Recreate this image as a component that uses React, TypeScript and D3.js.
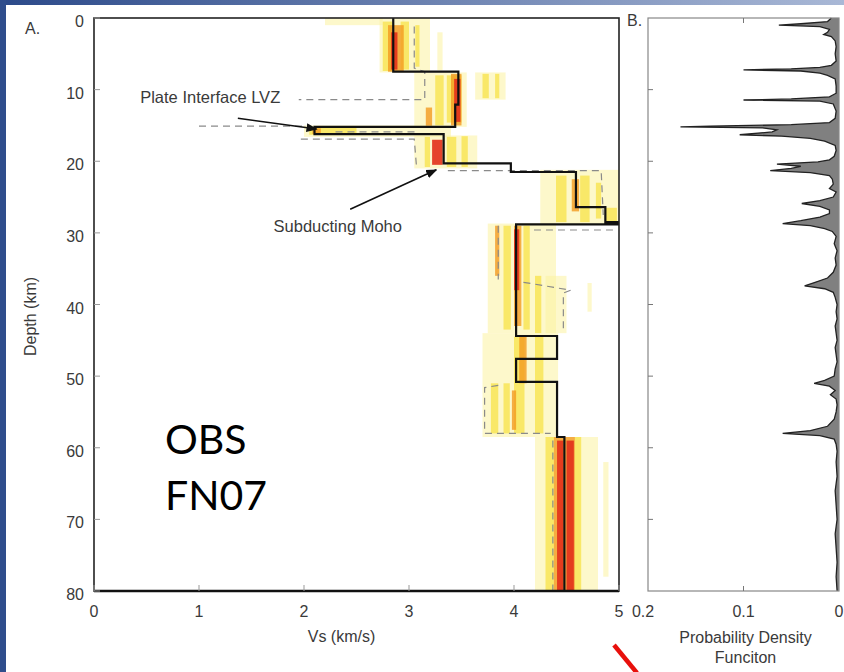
import React from "react";
import * as d3 from "d3";

const W = 844;
const H = 672;
const frameA = { left: 94, right: 619, top: 18, bottom: 591 };
const frameB = { left: 648, right: 839, top: 18, bottom: 591 };

const depthTicks = [0, 10, 20, 30, 40, 50, 60, 70, 80];
const vsTicks = [0, 1, 2, 3, 4, 5];
const pdfTicks = [0.2, 0.1, 0];
const pdfTickLabels = ["0.2", "0.1", "0"];

// best fitting model: [top depth, bottom depth, Vs]
const bestModel = [
  [0, 7.5, 2.85],
  [7.5, 12.1, 3.47],
  [12.1, 15.2, 3.44],
  [15.2, 16.2, 2.1],
  [16.2, 20.3, 3.33],
  [20.3, 21.5, 3.97],
  [21.5, 26.4, 4.59],
  [26.4, 28.5, 4.87],
  [28.5, 28.8, 4.99],
  [28.8, 44.4, 4.02],
  [44.4, 47.6, 4.41],
  [47.6, 50.8, 4.02],
  [50.8, 58.5, 4.41],
  [58.5, 80, 4.48],
];

// posterior density streaks: [top depth, bottom depth, Vs low, Vs high, level 1-4]
const heatBands = [
  [0, 1.0, 2.2, 2.75, 1],
  [0, 7.6, 2.72, 3.2, 1],
  [0.5, 7.4, 2.75, 2.84, 2],
  [0.5, 7.2, 2.92, 3.0, 2],
  [1, 6.8, 3.06, 3.1, 2],
  [1, 7.5, 2.8, 2.95, 3],
  [2, 7.2, 2.83, 2.89, 4],
  [2, 7.3, 3.27, 3.32, 1],
  [7.6, 15.2, 3.05, 3.55, 1],
  [8, 15, 3.25, 3.33, 2],
  [8, 14.6, 3.36, 3.5, 2],
  [7.8, 15, 3.4, 3.5, 3],
  [8.5, 14.5, 3.43, 3.49, 4],
  [7.6, 11.4, 3.63, 3.92, 1],
  [7.8, 11.2, 3.7, 3.76, 2],
  [7.8, 11.2, 3.82, 3.86, 2],
  [12.5, 15.2, 3.16, 3.22, 3],
  [15.0, 16.6, 2.0, 3.4, 1],
  [15.3, 16.3, 2.05, 2.5, 2],
  [15.4, 16.2, 2.08, 2.16, 3],
  [16.4, 21, 3.05, 3.65, 1],
  [16.6, 20.8, 3.15, 3.2, 2],
  [16.6, 20.8, 3.36, 3.45, 2],
  [17, 20.5, 3.22, 3.32, 4],
  [16.5, 20.8, 3.5, 3.56, 2],
  [21.2, 28.8, 4.25, 5.0, 1],
  [22, 28.5, 4.4, 4.5, 2],
  [22, 28.5, 4.63, 4.72, 2],
  [23, 28, 4.78, 4.83, 2],
  [22.5, 27, 4.55, 4.62, 3],
  [26.5, 28.6, 4.87, 4.98, 2],
  [28.7, 44, 3.75, 4.4, 1],
  [29, 43.5, 3.9, 3.97, 2],
  [29, 43.5, 4.09, 4.15, 2],
  [29, 43, 4.0, 4.07, 3],
  [29.5, 38, 4.0, 4.05, 4],
  [36, 44, 4.2, 4.26, 2],
  [36, 44, 4.3, 4.5, 1],
  [29, 36, 3.82, 3.86, 3],
  [37, 41, 4.7, 4.74, 1],
  [44, 58.5, 3.7, 4.42, 1],
  [44.5, 58, 4.0, 4.1, 2],
  [44.5, 58, 4.2, 4.28, 2],
  [44.5, 51, 4.05, 4.12, 3],
  [51, 58, 3.78, 3.85, 2],
  [51, 58, 3.9, 3.96, 2],
  [52, 57.5, 3.98, 4.02, 3],
  [58.5, 80, 4.2, 4.8, 1],
  [58.5, 80, 4.3, 4.38, 2],
  [58.5, 80, 4.58, 4.64, 2],
  [58.5, 80, 4.38, 4.58, 3],
  [59, 80, 4.41, 4.47, 4],
  [59, 80, 4.5, 4.57, 4],
  [62, 78, 4.85, 4.9, 1],
];
const heatColors = ["#fbf2a0", "#f8df33", "#f29a1f", "#e2301b"];
const heatOpacity = [0.55, 0.65, 0.8, 0.9];

// dashed bound segments as [Vs, depth] points
const boundPaths = [
  [[3.05, 1.2], [3.05, 7.0], [3.15, 7.5], [3.15, 11.4], [1.95, 11.4]],
  [[1.0, 15.1], [2.05, 15.1]],
  [[2.3, 15.9], [3.1, 15.9]],
  [[1.97, 16.9], [3.05, 16.9], [3.07, 20.5]],
  [[3.37, 21.3], [4.83, 21.3], [4.85, 27.5]],
  [[4.19, 29.6], [4.95, 29.6]],
  [[3.85, 29.0], [3.85, 36.5]],
  [[4.09, 36.9], [4.54, 38.0], [4.47, 38.4], [4.47, 44.0]],
  [[3.85, 51.3], [3.72, 51.6], [3.72, 58.0], [4.35, 58.0]],
  [[4.37, 59.0], [4.37, 80]],
];

// probability density function: [depth, value]
const pdfProfile = [
  [0, 0.008], [0.5, 0.012], [0.8, 0.04], [1.0, 0.063], [1.2, 0.02], [1.6, 0.01],
  [2.0, 0.012], [2.3, 0.016], [2.6, 0.008], [3.2, 0.004], [4.0, 0.003], [5.0, 0.004],
  [6.0, 0.003], [6.6, 0.008], [6.9, 0.02], [7.1, 0.05], [7.25, 0.1], [7.4, 0.04],
  [7.7, 0.02], [8.0, 0.012], [8.5, 0.004], [9.5, 0.003], [10.5, 0.003], [11.0, 0.01],
  [11.3, 0.05], [11.45, 0.1], [11.6, 0.02], [12.0, 0.006], [13.0, 0.003], [14.0, 0.004],
  [14.6, 0.01], [14.9, 0.05], [15.1, 0.135], [15.2, 0.166], [15.35, 0.08], [15.6, 0.065],
  [15.9, 0.07], [16.3, 0.104], [16.5, 0.06], [16.8, 0.03], [17.2, 0.015], [17.8, 0.004],
  [18.5, 0.003], [19.3, 0.005], [19.8, 0.01], [20.1, 0.022], [20.4, 0.065], [20.7, 0.04],
  [21.0, 0.05], [21.3, 0.072], [21.6, 0.03], [22.0, 0.01], [22.5, 0.007], [23.2, 0.006],
  [23.8, 0.01], [24.3, 0.003], [25.0, 0.006], [25.5, 0.02], [25.9, 0.039], [26.3, 0.02],
  [26.8, 0.01], [27.3, 0.01], [27.8, 0.02], [28.3, 0.04], [28.7, 0.059], [29.0, 0.03],
  [29.4, 0.015], [29.8, 0.007], [30.5, 0.003], [31.5, 0.005], [32.5, 0.002], [33.5, 0.004],
  [34.5, 0.003], [35.5, 0.006], [36.3, 0.012], [36.9, 0.025], [37.4, 0.036], [37.8, 0.015],
  [38.3, 0.006], [39.0, 0.004], [40, 0.002], [41, 0.003], [42, 0.002], [43, 0.004],
  [44, 0.003], [45, 0.002], [46, 0.004], [47, 0.003], [48, 0.002], [49, 0.004],
  [50, 0.005], [50.6, 0.015], [51.0, 0.026], [51.4, 0.01], [52.0, 0.004], [52.6, 0.009],
  [53.2, 0.003], [54, 0.002], [55, 0.003], [56, 0.005], [57, 0.012], [57.6, 0.03],
  [58.0, 0.059], [58.3, 0.02], [58.8, 0.005], [59.5, 0.003], [60.5, 0.002], [62, 0.003],
  [64, 0.002], [66, 0.004], [68, 0.003], [70, 0.002], [72, 0.004], [74, 0.003],
  [76, 0.002], [78, 0.003], [80, 0.002],
];

// annotations in data units: label position, arrow start, arrow end
const annotations = [
  { text: "Plate Interface LVZ", at: [0.44, 11.9], from: [1.37, 14.0], to: [2.12, 15.5] },
  { text: "Subducting Moho", at: [1.71, 29.9], from: [2.44, 26.7], to: [3.26, 21.2] },
];

const stationLines = ["OBS", "FN07"];

const font = "'Liberation Sans', Arial, sans-serif";
const textColor = "#3a3a3a";

export default function App() {
  const x = d3.scaleLinear().domain([0, 5]).range([frameA.left, frameA.right]);
  const y = d3.scaleLinear().domain([0, 80]).range([frameA.top, frameA.bottom]);
  const xp = d3.scaleLinear().domain([0.2, 0]).range([frameB.left, frameB.right]);

  const stepPoints: [number, number][] = [];
  bestModel.forEach(([top, bot, vs]) => {
    stepPoints.push([vs, top]);
    stepPoints.push([vs, bot]);
  });
  const line = d3
    .line<[number, number]>()
    .x((d) => x(d[0]))
    .y((d) => y(d[1]));

  const pdfArea = d3
    .area<number[]>()
    .y((d) => y(d[0]))
    .x0(xp(0))
    .x1((d) => xp(d[1]));
  const pdfLine = d3
    .line<number[]>()
    .x((d) => xp(d[1]))
    .y((d) => y(d[0]));

  return (
    <div style={{ position: "fixed", left: 0, top: 0 }}>
      <svg width={W} height={H} style={{ display: "block" }}>
        <defs>
          <linearGradient id="topbar" x1="0" x2="1" y1="0" y2="0">
            <stop offset="0" stopColor="#2c4a8a" />
            <stop offset="1" stopColor="#a9b8d6" />
          </linearGradient>
          <marker id="arrow" viewBox="0 0 10 10" refX="9" refY="5" markerWidth="7" markerHeight="7" orient="auto">
            <path d="M0,1 L10,5 L0,9 z" fill="#111" />
          </marker>
        </defs>
        <rect width={W} height={H} fill="#fff" />
        <rect x={0} y={0} width={W} height={5} fill="url(#topbar)" />
        <rect x={0} y={0} width={6} height={H} fill="#2f4d8c" />

        {/* panel A */}
        <g>
          {heatBands.map(([top, bot, lo, hi, lvl], i) => (
            <rect
              key={i}
              x={x(lo)}
              y={y(top)}
              width={x(hi) - x(lo)}
              height={y(bot) - y(top)}
              fill={heatColors[lvl - 1]}
              opacity={heatOpacity[lvl - 1]}
            />
          ))}
          {boundPaths.map((p, i) => (
            <path
              key={i}
              d={line(p as [number, number][]) || ""}
              fill="none"
              stroke="#8a8a8a"
              strokeWidth={1.2}
              strokeDasharray="7,5"
            />
          ))}
          <path d={line(stepPoints) || ""} fill="none" stroke="#111" strokeWidth={2.2} />

          {annotations.map((a, i) => (
            <g key={i}>
              <text x={x(a.at[0])} y={y(a.at[1])} fontFamily={font} fontSize={16.5} fill={textColor}>
                {a.text}
              </text>
              <line
                x1={x(a.from[0])}
                y1={y(a.from[1])}
                x2={x(a.to[0])}
                y2={y(a.to[1])}
                stroke="#111"
                strokeWidth={1.6}
                markerEnd="url(#arrow)"
              />
            </g>
          ))}

          <rect
            x={frameA.left}
            y={frameA.top}
            width={frameA.right - frameA.left}
            height={frameA.bottom - frameA.top}
            fill="none"
            stroke="#222"
            strokeWidth={1.6}
          />
          <line x1={frameA.left} x2={frameA.right} y1={frameA.bottom} y2={frameA.bottom} stroke="#111" strokeWidth={2.5} />

          {depthTicks.map((d) => (
            <g key={d}>
              <line x1={frameA.left} x2={frameA.left + 6} y1={y(d)} y2={y(d)} stroke="#999" />
              <text x={frameA.left - 10} y={y(d) + 9} textAnchor="end" fontFamily={font} fontSize={16} fill={textColor}>
                {d}
              </text>
            </g>
          ))}
          {vsTicks.map((v) => (
            <g key={v}>
              <line x1={x(v)} x2={x(v)} y1={frameA.bottom} y2={frameA.bottom - 6} stroke="#999" />
              <text x={x(v)} y={frameA.bottom + 26} textAnchor="middle" fontFamily={font} fontSize={16} fill={textColor}>
                {v}
              </text>
            </g>
          ))}
          <text x={(x(0) + x(5)) / 2 - 15} y={frameA.bottom + 51} textAnchor="middle" fontFamily={font} fontSize={16} fill={textColor}>
            Vs (km/s)
          </text>
          <text
            transform={`translate(36, ${(frameA.top + frameA.bottom) / 2 + 12}) rotate(-90)`}
            textAnchor="middle"
            fontFamily={font}
            fontSize={16}
            fill={textColor}
          >
            Depth (km)
          </text>
          <text x={25} y={34} fontFamily={font} fontSize={16} fill={textColor}>
            A.
          </text>
          {stationLines.map((s, i) => (
            <text key={s} x={165} y={454 + i * 56} fontFamily="Lato, 'Open Sans', sans-serif" fontSize={41} fill="#000">
              {s}
            </text>
          ))}
        </g>

        {/* panel B */}
        <g>
          <path d={pdfArea(pdfProfile) || ""} fill="#808080" />
          <path d={pdfLine(pdfProfile) || ""} fill="none" stroke="#222" strokeWidth={1.3} />
          <rect
            x={frameB.left}
            y={frameB.top}
            width={frameB.right - frameB.left}
            height={frameB.bottom - frameB.top}
            fill="none"
            stroke="#888"
            strokeWidth={1.2}
          />
          {depthTicks.slice(1, -1).map((d) => (
            <line key={d} x1={frameB.left} x2={frameB.left + 5} y1={y(d)} y2={y(d)} stroke="#777" />
          ))}
          <line x1={xp(0.1)} x2={xp(0.1)} y1={frameB.top} y2={frameB.top + 5} stroke="#777" />
          <line x1={xp(0.1)} x2={xp(0.1)} y1={frameB.bottom} y2={frameB.bottom - 5} stroke="#777" />
          {pdfTicks.map((v, i) => (
            <text key={v} x={xp(v) + (i === 0 ? -5 : 0)} y={frameB.bottom + 26} textAnchor="middle" fontFamily={font} fontSize={16} fill={textColor}>
              {pdfTickLabels[i]}
            </text>
          ))}
          <text x={xp(0.1) + 2} y={frameB.bottom + 52} textAnchor="middle" fontFamily={font} fontSize={16} fill={textColor}>
            Probability Density
          </text>
          <text x={xp(0.1) + 2} y={frameB.bottom + 72} textAnchor="middle" fontFamily={font} fontSize={16} fill={textColor}>
            Funciton
          </text>
          <text x={627} y={26} fontFamily={font} fontSize={16} fill={textColor}>
            B.
          </text>
        </g>

        <line x1={614} y1={645} x2={637} y2={673} stroke="#e8100c" strokeWidth={4.5} />
      </svg>
    </div>
  );
}
